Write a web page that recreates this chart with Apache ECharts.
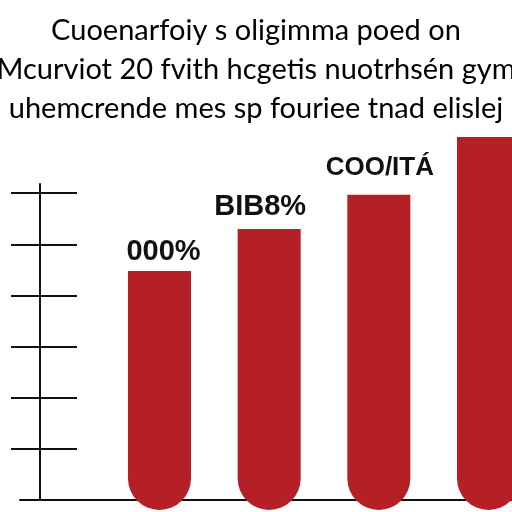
<!DOCTYPE html>
<html>
<head>
<meta charset="utf-8">
<script src="https://cdn.jsdelivr.net/npm/echarts@6/dist/echarts.min.js"></script>
<style>html,body{margin:0;padding:0;background:#fff}#c{width:512px;height:512px}</style>
</head>
<body>
<div id="c"></div>
<script>
// ---- data ----
var titleLines = [
  'Cuoenarfoiy s oligimma poed on',
  'Mcurviot 20 fvith hcgetis nuotrhsén gym',
  'uhemcrende mes sp fouriee tnad elislej'
];
var categories = ['A', 'B', 'C', 'D'];
var barValues = [4.67, 5.49, 6.16, 7.29];
var barLabels = ['000%', 'BIB8%', 'COO/ITÁ', ''];
var axisTickValues = [1, 2, 3, 4, 5, 6];

// ---- style / layout ----
var labelShift = [[4, -1], [-9, -4], [1, -10], [0, 0]];
var labelSize = [29, 29, 26, 29];
var chart = echarts.init(document.getElementById('c'), null, {renderer: 'canvas'});
var titleFont = "'Lato','Liberation Sans',sans-serif";
var barData = barValues.map(function (v, i) {
  return {
    value: v,
    label: {offset: labelShift[i], fontSize: labelSize[i]}
  };
});

chart.setOption({
  backgroundColor: '#ffffff',
  animation: false,
  title: titleLines.map(function (t, i) {
    return {
      text: t,
      left: 'center',
      top: 11 + i * 39,
      textStyle: {fontFamily: titleFont, fontWeight: 'normal', fontSize: 29, color: '#000'}
    };
  }),
  grid: [
    {left: 20, right: 0, top: 184, bottom: 12},
    {left: 159.5, right: 23.5, top: 100.6, bottom: 2}
  ],
  xAxis: [
    {gridIndex: 0, type: 'value', min: 0, max: 1, show: true,
      axisLine: {show: true, lineStyle: {color: '#111', width: 2}},
      axisTick: {show: false}, axisLabel: {show: false}, splitLine: {show: false}},
    {gridIndex: 1, type: 'category', data: categories, boundaryGap: false,
      axisLine: {show: false}, axisTick: {show: false}, axisLabel: {show: false}}
  ],
  yAxis: [
    {gridIndex: 0, type: 'value', min: 0, max: 6.18, position: 'left', offset: -20,
      axisLine: {show: true, lineStyle: {color: '#111', width: 2}},
      axisTick: {show: true, length: 29, customValues: axisTickValues, lineStyle: {color: '#111', width: 2}},
      axisLabel: {show: false}, splitLine: {show: false}},
    {gridIndex: 0, type: 'value', min: 0, max: 6.18, position: 'left', offset: -20,
      axisLine: {show: false},
      axisTick: {show: true, inside: true, length: 37, customValues: axisTickValues, lineStyle: {color: '#111', width: 2}},
      axisLabel: {show: false}, splitLine: {show: false}},
    {gridIndex: 1, type: 'value', min: 0, max: 8, show: false}
  ],
  series: [{
    type: 'bar',
    xAxisIndex: 1,
    yAxisIndex: 2,
    clip: false,
    data: barData,
    barWidth: 63,
    itemStyle: {color: '#b51f26', borderRadius: [0, 0, 31.5, 31.5]},
    label: {
      show: true,
      position: 'top',
      distance: 4,
      formatter: function (p) { return barLabels[p.dataIndex]; },
      fontFamily: "'Liberation Sans',sans-serif",
      fontWeight: 'bold',
      fontSize: 29,
      color: '#111'
    }
  }]
});
</script>
</body>
</html>
